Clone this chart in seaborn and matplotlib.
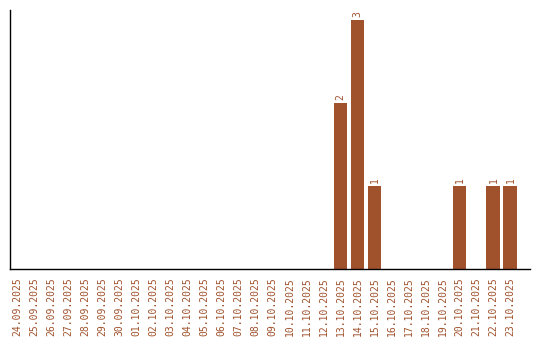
import matplotlib
matplotlib.use("Agg")
import matplotlib.pyplot as plt
import seaborn as sns
import pandas as pd

dates = ["24.09.2025", "25.09.2025", "26.09.2025", "27.09.2025", "28.09.2025",
         "29.09.2025", "30.09.2025", "01.10.2025", "02.10.2025", "03.10.2025",
         "04.10.2025", "05.10.2025", "06.10.2025", "07.10.2025", "08.10.2025",
         "09.10.2025", "10.10.2025", "11.10.2025", "12.10.2025", "13.10.2025",
         "14.10.2025", "15.10.2025", "16.10.2025", "17.10.2025", "18.10.2025",
         "19.10.2025", "20.10.2025", "21.10.2025", "22.10.2025", "23.10.2025"]
counts = [0, 0, 0, 0, 0, 0, 0, 0, 0, 0,
          0, 0, 0, 0, 0, 0, 0, 0, 0, 2,
          3, 1, 0, 0, 0, 0, 1, 0, 1, 1]

sns.set_theme(style="white")
plt.rcParams['font.family'] = ['DejaVu Sans Mono', 'DejaVu Sans']

color = "#A0522D"
df = pd.DataFrame({"date": dates, "count": counts})

fig = plt.figure(figsize=(5.4, 3.4), dpi=100)
ax = fig.add_axes([10/540, 71/340, 520/540, 259/340])
sns.barplot(data=df, x="date", y="count", color=color, saturation=1, width=0.82,
            linewidth=0, edgecolor=color, ax=ax)

for i, v in enumerate(counts):
    if v > 0:
        ax.text(i, v + 0.03, str(v), rotation=90, ha="center", va="bottom",
                fontsize=7, color=color)

ax.set_xlim(-0.45, 30.15)
ax.set_ylim(0, 3.12)
ax.set_xlabel("")
ax.set_ylabel("")
ax.set_yticks([])
ax.tick_params(axis="x", length=0, pad=6, labelsize=7, labelcolor=color, rotation=90)
for s in ["top", "right"]:
    ax.spines[s].set_visible(False)
for s in ["left", "bottom"]:
    ax.spines[s].set_color("black")
    ax.spines[s].set_linewidth(1.0)

fig.savefig("out.png", dpi=100)
